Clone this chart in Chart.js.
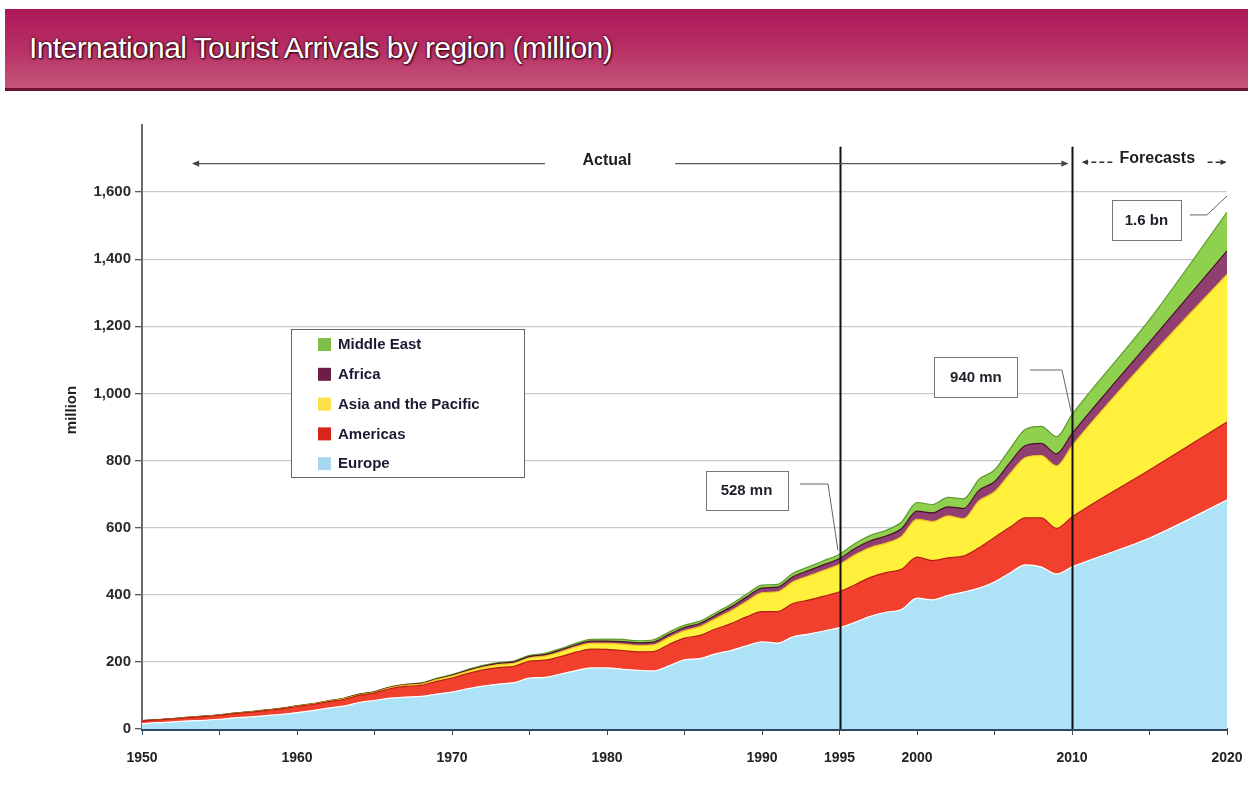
<!DOCTYPE html>
<html>
<head>
<meta charset="utf-8">
<script src="https://cdn.jsdelivr.net/npm/chart.js@4.4.1/dist/chart.umd.min.js"></script>
<style>
  html, body { margin: 0; padding: 0; background: #fff; }
  #wrap { position: relative; width: 1248px; height: 787px; overflow: hidden; }
  #banner {
    position: absolute; left: 5px; top: 9px; width: 1243px; height: 79px;
    background: linear-gradient(to bottom, #ae1759 0%, #b83266 55%, #c6577a 100%);
    border-bottom: 3px solid #6e1232; z-index: 2;
  }
  #banner span {
    position: absolute; left: 24px; top: 22px;
    font-family: "Liberation Sans", Arial, sans-serif; font-size: 30px;
    letter-spacing: -0.6px; color: #fff;
    text-shadow: 0 0 3px #3e0018, 1px 1px 2px #2a0010, 0 0 1px #3e0018;
    white-space: nowrap;
  }
  #chartBox { position: absolute; left: 0; top: 0; width: 1248px; height: 787px; }
</style>
</head>
<body>
<div id="wrap">
  <div id="banner"><span>International Tourist Arrivals by region (million)</span></div>
  <div id="chartBox"><canvas id="c"></canvas></div>
</div>
<script>
// ---------- DATA ----------
const years = [1950,1951,1952,1953,1954,1955,1956,1957,1958,1959,
  1960,1961,1962,1963,1964,1965,1966,1967,1968,1969,
  1970,1971,1972,1973,1974,1975,1976,1977,1978,1979,
  1980,1981,1982,1983,1984,1985,1986,1987,1988,1989,
  1990,1991,1992,1993,1994,1995,1996,1997,1998,1999,
  2000,2001,2002,2003,2004,2005,2006,2007,2008,2009,
  2010,2015,2020];

const europe = [16,19,21,24,26,29,33,36,40,44,
  49,55,62,68,79,85,92,95,97,104,
  110,120,128,134,138,152,154,164,174,182,
  182,178,175,173,188,206,210,224,234,248,
  260,256,275,283,292,302,318,336,348,356,
  390,385,398,408,420,438,465,489,483,462,
  483,569,682];

const americas = [8,8,9,10,11,12,13,14,15,16,
  18,18,19,20,21,22,28,32,33,38,
  42,45,48,49,49,50,51,52,55,56,
  55,56,55,58,64,65,69,74,80,86,
  90,94,99,101,104,107,112,116,118,120,
  122,117,112,107,120,133,136,140,146,136,
  149,203,233];

const asiaPacific = [0.2,0.3,0.3,0.4,0.5,0.5,0.6,0.7,0.8,0.9,
  1,1.2,1.5,1.8,2,2.5,3,3.5,4,5,
  6,7,8,9,9,10,12,14,16,17,
  18,19,19,20,21,22,26,31,38,46,
  56,59,65,72,77,82,89,89,88,98,
  113,116,125,112,140,136,160,180,186,186,
  212,336,440];

const africa = [0.5,0.5,0.6,0.6,0.7,0.7,0.7,0.7,0.7,0.7,
  0.8,0.9,1.0,1.1,1.2,1.3,1.4,1.6,1.8,2.1,
  2.4,2.8,3.1,3.5,3.8,4.5,5,5.5,6,6.6,
  7,7.5,7.5,8,9,9.5,9.5,10,12,13,
  14,14,15,16,17,17,19,20,21,23,
  24,26,27,30,31,30,33,36,36,36,
  36,45,70];

const middleEast = [0.2,0.2,0.25,0.3,0.3,0.35,0.4,0.45,0.5,0.55,
  0.6,0.65,0.7,0.8,0.9,1.0,1.1,1.2,1.4,1.6,
  1.9,2.1,2.3,2.5,2.7,3.0,3.5,4,4.8,5.5,
  6,6.5,6.5,7,7,7,7,7.5,8,8.5,
  9,8,10,11,12,13,15,16,17,20,
  26,25,28,29,33,35,41,48,51,51,
  57,67,115];

const seriesNames = ["Europe","Americas","Asia and the Pacific","Africa","Middle East"];
const xTickLabels = [1950,1960,1970,1980,1990,1995,2000,2010,2020];
const yTickStep = 200;
const dividerYears = [1995, 2010];
const callouts = [
  {text:"528 mn", cx:1989.0, cy:712, w:82, h:39, path:[[1992.45,730],[1994.26,730],[1994.9,533]]},
  {text:"940 mn", cx:2003.8, cy:1049, w:83, h:40, path:[[2007.3,1070],[2009.35,1070],[2009.95,945]]},
  {text:"1.6 bn", cx:2014.8, cy:1517, w:69, h:40, path:[[2017.6,1532],[2018.7,1532],[2020,1588]]}
];

// ---------- BUILD ----------
const fills = ["#aee3f7","#f2402e","#fff03c","#8f3f70","#8fd14f"];
const borders = ["#ffffff","#b3200f","#f0c020","#4a1226","#5e9a2e"];
const legendSwatch = ["#a8d8f0","#d8251a","#fde04a","#6e1d48","#7cc04a"];
const seriesData = [europe, americas, asiaPacific, africa, middleEast];

const datasets = seriesData.map((arr, i) => ({
  label: seriesNames[i],
  data: arr.map((v, k) => ({x: years[k], y: v})),
  backgroundColor: fills[i],
  borderColor: borders[i],
  borderWidth: 1.2,
  pointRadius: 0,
  fill: i === 0 ? 'origin' : '-1',
  cubicInterpolationMode: 'monotone'
}));

const FONT = '"Liberation Sans", Arial, sans-serif';

function arrowHead(ctx, x, y, dir, size) {
  ctx.beginPath();
  ctx.moveTo(x, y);
  ctx.lineTo(x - dir * size, y - size * 0.45);
  ctx.lineTo(x - dir * size, y + size * 0.45);
  ctx.closePath();
  ctx.fill();
}

const annotPlugin = {
  id: 'annot',
  afterDatasetsDraw(chart) {
    const {ctx, scales: {x, y}} = chart;
    ctx.save();
    // divider lines
    ctx.strokeStyle = '#111';
    ctx.lineWidth = 2;
    dividerYears.forEach(yr => {
      const px = Math.round(x.getPixelForValue(yr)) + 0.5;
      ctx.beginPath();
      ctx.moveTo(px, y.getPixelForValue(0));
      ctx.lineTo(px, y.getPixelForValue(1735));
      ctx.stroke();
    });

    // Actual arrows
    const ay = y.getPixelForValue(1685);
    ctx.strokeStyle = '#555';
    ctx.fillStyle = '#444';
    ctx.lineWidth = 1.3;
    ctx.beginPath();
    ctx.moveTo(x.getPixelForValue(1953.3), ay);
    ctx.lineTo(x.getPixelForValue(1976.0), ay);
    ctx.moveTo(x.getPixelForValue(1984.4), ay);
    ctx.lineTo(x.getPixelForValue(2009.7), ay);
    ctx.stroke();
    arrowHead(ctx, x.getPixelForValue(1953.3) - 1, ay, -1, 7);
    arrowHead(ctx, x.getPixelForValue(2009.7) + 1, ay, 1, 7);
    ctx.font = 'bold 16px ' + FONT;
    ctx.fillStyle = '#1e1e1e';
    ctx.textAlign = 'center';
    ctx.textBaseline = 'middle';
    ctx.fillText('Actual', x.getPixelForValue(1980.0), ay - 3);

    // Forecasts
    const fy = y.getPixelForValue(1695);
    ctx.fillText('Forecasts', x.getPixelForValue(2015.5), fy - 2);
    ctx.setLineDash([5, 3]);
    ctx.strokeStyle = '#333';
    ctx.beginPath();
    ctx.moveTo(x.getPixelForValue(2012.6), fy + 2);
    ctx.lineTo(x.getPixelForValue(2010.7), fy + 2);
    ctx.moveTo(x.getPixelForValue(2018.75), fy + 2);
    ctx.lineTo(x.getPixelForValue(2019.9), fy + 2);
    ctx.stroke();
    ctx.setLineDash([]);
    ctx.fillStyle = '#333';
    arrowHead(ctx, x.getPixelForValue(2010.7) - 1, fy + 2, -1, 6);
    arrowHead(ctx, x.getPixelForValue(2019.9) + 1, fy + 2, 1, 6);

    // callouts
    callouts.forEach(c => {
      ctx.strokeStyle = '#666';
      ctx.lineWidth = 1;
      ctx.beginPath();
      c.path.forEach((p, i) => {
        const px = x.getPixelForValue(p[0]), py = y.getPixelForValue(p[1]);
        if (i === 0) ctx.moveTo(px, py); else ctx.lineTo(px, py);
      });
      ctx.stroke();
      const cx = x.getPixelForValue(c.cx), cy = y.getPixelForValue(c.cy);
      ctx.fillStyle = '#fff';
      ctx.fillRect(cx - c.w / 2, cy - c.h / 2, c.w, c.h);
      ctx.strokeStyle = '#777';
      ctx.strokeRect(Math.round(cx - c.w / 2) + 0.5, Math.round(cy - c.h / 2) + 0.5, c.w, c.h);
      ctx.fillStyle = '#1e1e2a';
      ctx.font = 'bold 15px ' + FONT;
      ctx.textAlign = 'center';
      ctx.textBaseline = 'middle';
      ctx.fillText(c.text, cx, cy + 1);
    });

    // legend
    const lx = 291, ly = 329, lw = 233, lh = 148;
    ctx.fillStyle = '#fff';
    ctx.fillRect(lx, ly, lw, lh);
    ctx.strokeStyle = '#666';
    ctx.lineWidth = 1;
    ctx.strokeRect(lx + 0.5, ly + 0.5, lw, lh);
    ctx.font = 'bold 15px ' + FONT;
    ctx.textAlign = 'left';
    ctx.textBaseline = 'middle';
    const order = [4, 3, 2, 1, 0];
    order.forEach((di, k) => {
      const iy = ly + 15 + k * 29.8;
      ctx.fillStyle = legendSwatch[di];
      ctx.fillRect(lx + 27, iy - 6, 13, 13);
      ctx.fillStyle = '#1a1a33';
      ctx.fillText(chart.data.datasets[di].label, lx + 47, iy + 1);
    });

    // y-axis title
    ctx.save();
    ctx.translate(72, 410);
    ctx.rotate(-Math.PI / 2);
    ctx.font = 'bold 15px ' + FONT;
    ctx.fillStyle = '#222';
    ctx.textAlign = 'center';
    ctx.textBaseline = 'middle';
    ctx.fillText('million', 0, 0);
    ctx.restore();

    ctx.restore();
  }
};

new Chart(document.getElementById('c'), {
  type: 'line',
  data: { datasets },
  options: {
    responsive: true,
    maintainAspectRatio: false,
    animation: false,
    layout: { padding: { top: 125, right: 21, left: 0, bottom: 0 } },
    plugins: { legend: { display: false }, tooltip: { enabled: false } },
    elements: { line: { tension: 0 } },
    scales: {
      x: {
        type: 'linear',
        min: 1950, max: 2020,
        afterFit: s => { s.height = 58; s.paddingLeft = 0; s.paddingRight = 0; },
        afterBuildTicks: s => { s.ticks = []; for (let v = 1950; v <= 2020; v += 5) s.ticks.push({value: v}); },
        ticks: {
          autoSkip: false, maxRotation: 0,
          font: { family: FONT, size: 14, weight: 'bold' },
          color: '#222',
          padding: 15,
          callback: v => xTickLabels.includes(v) ? String(v) : ''
        },
        grid: { drawOnChartArea: false, drawTicks: true, tickLength: 6, tickColor: '#3a4a60' },
        border: { color: '#34465f', width: 3 }
      },
      y: {
        stacked: true,
        min: 0, max: 1800,
        afterFit: s => { s.width = 142; s.paddingTop = 0; s.paddingBottom = 0; },
        ticks: {
          stepSize: yTickStep,
          font: { family: FONT, size: 15, weight: 'bold' },
          color: '#2a2a2a',
          padding: 4,
          callback: v => v >= 1800 ? '' : v.toLocaleString('en-US')
        },
        grid: {
          color: c => (c.tick && (c.tick.value === 0 || c.tick.value >= 1800)) ? 'rgba(0,0,0,0)' : '#c9c9c9',
          tickColor: c => (c.tick && c.tick.value >= 1800) ? 'rgba(0,0,0,0)' : '#555',
          tickLength: 7,
          lineWidth: 1.3
        },
        border: { color: '#6a6a6a', width: 2 }
      }
    }
  },
  plugins: [annotPlugin]
});
</script>
</body>
</html>
